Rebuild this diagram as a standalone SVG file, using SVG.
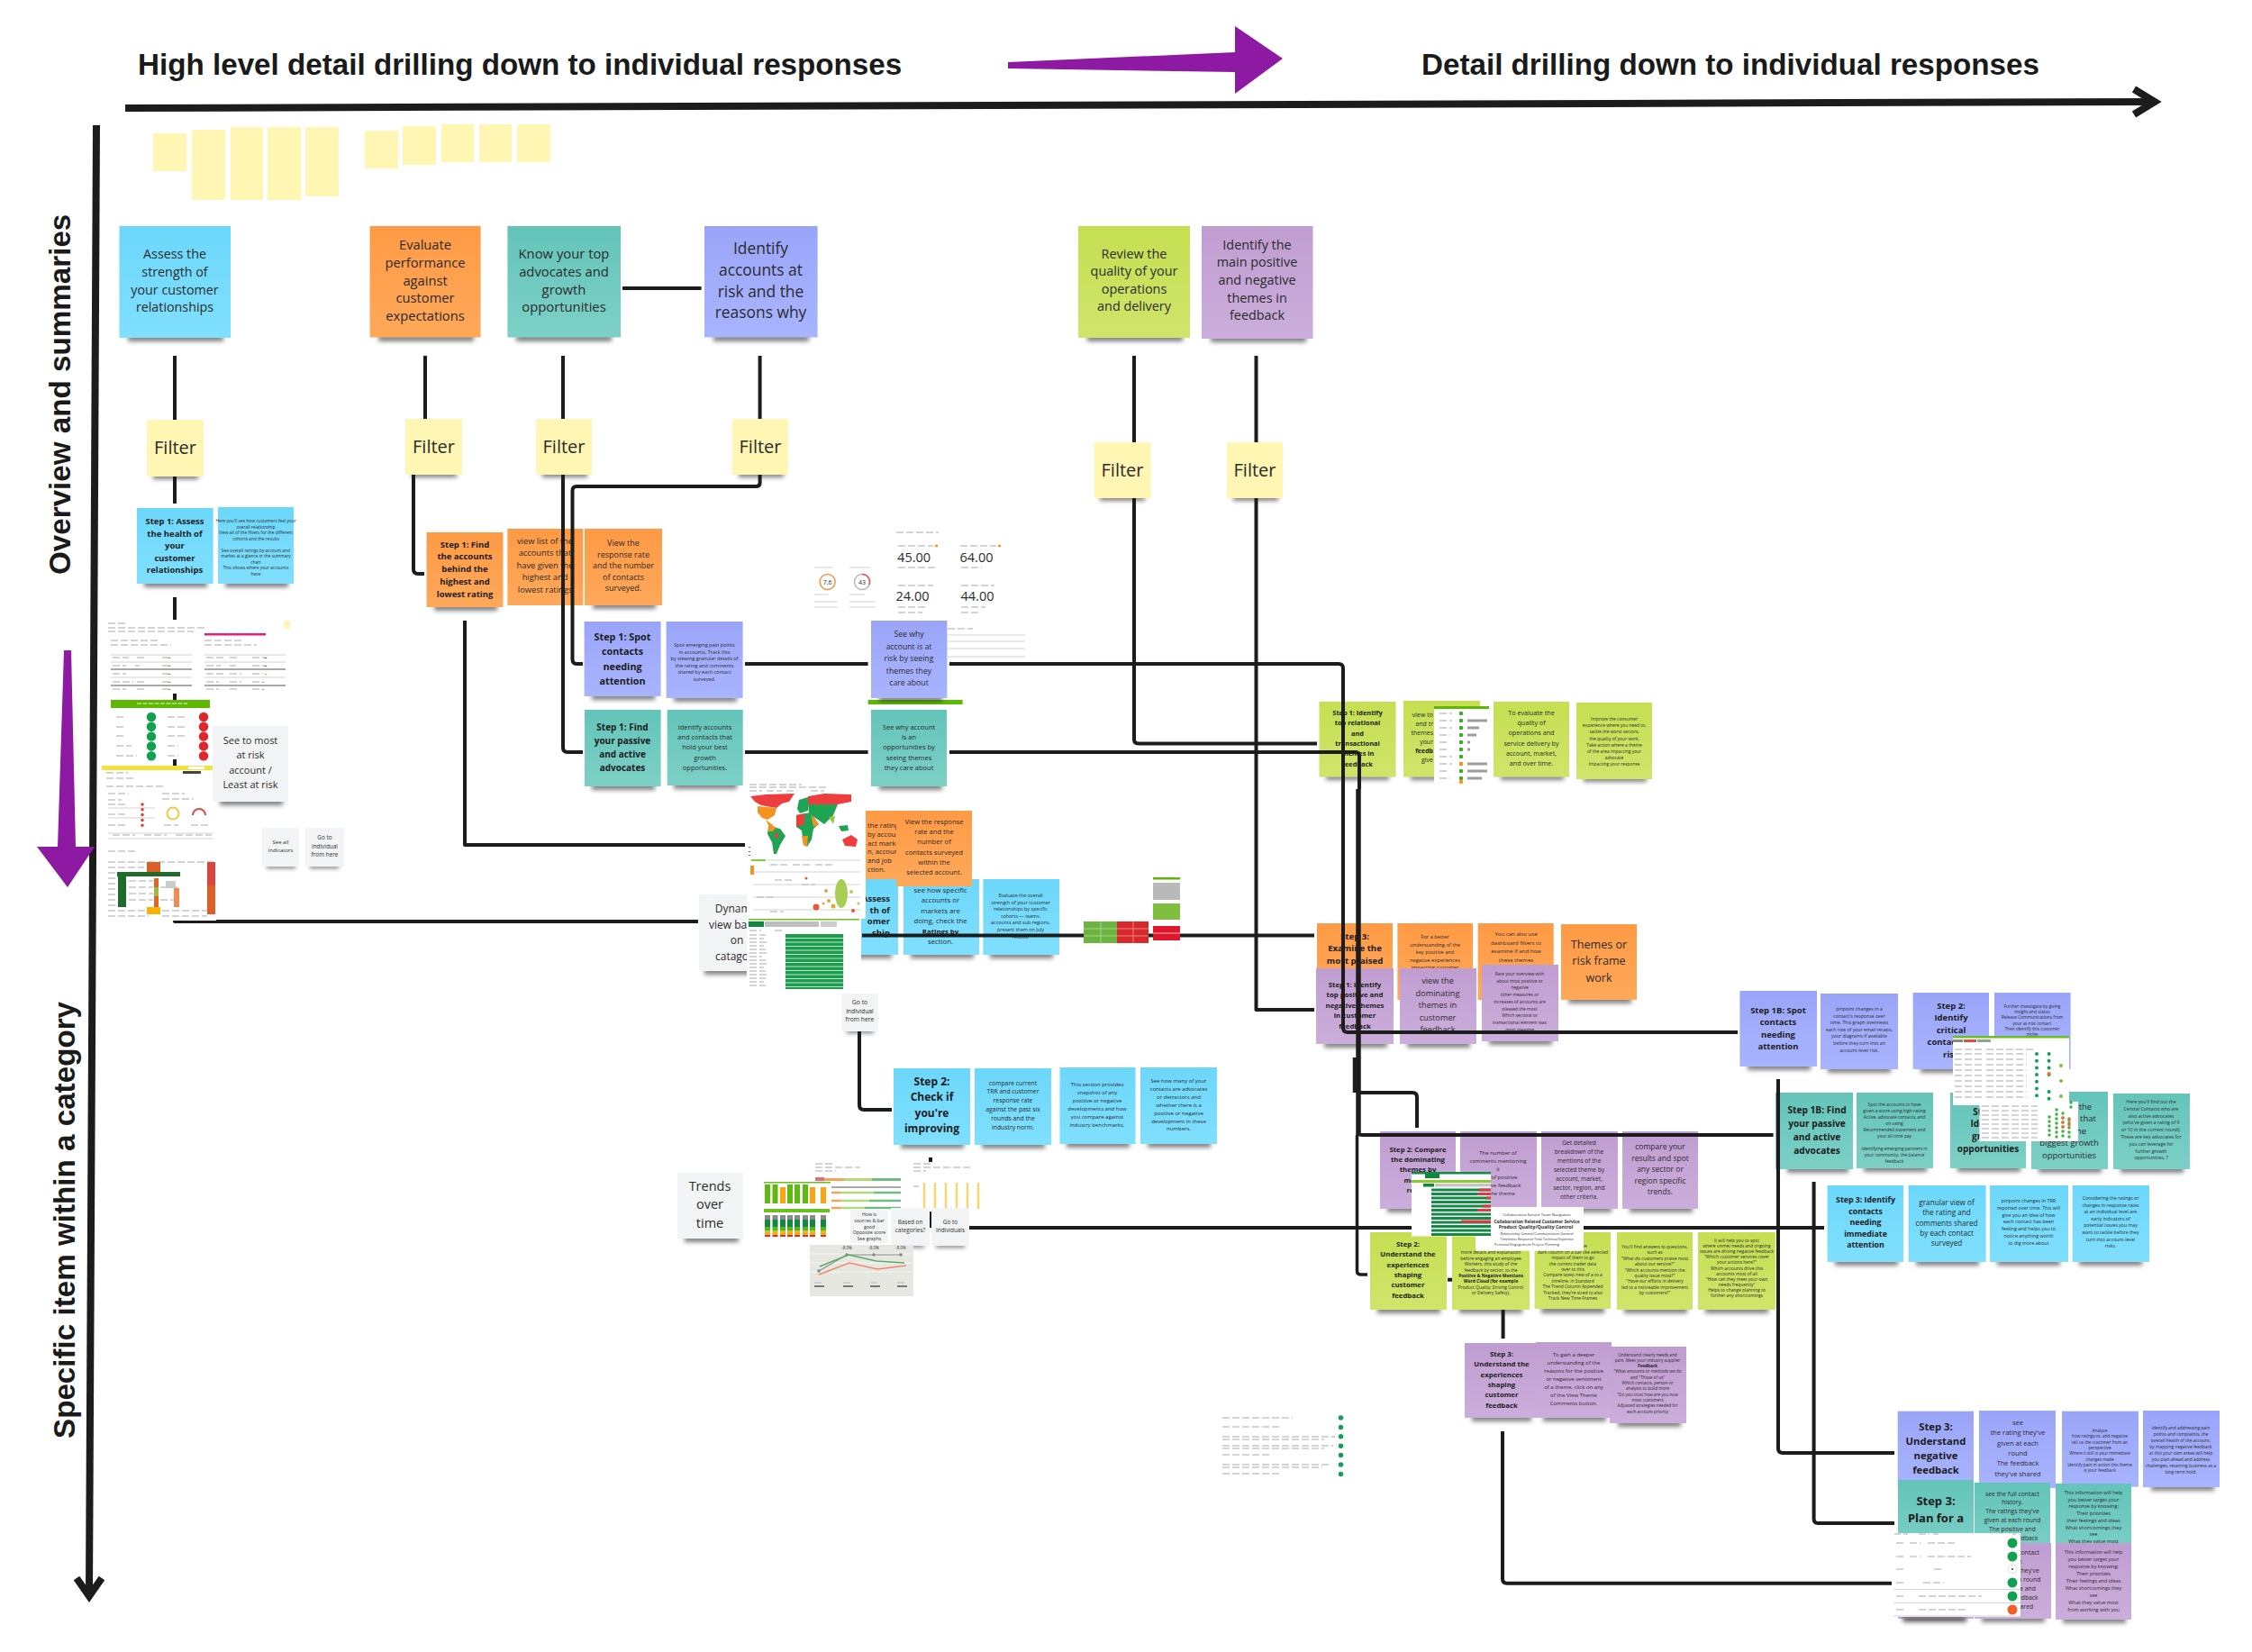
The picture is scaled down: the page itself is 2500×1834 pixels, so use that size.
<svg xmlns="http://www.w3.org/2000/svg" width="2500" height="1834" viewBox="0 0 2500 1834">
<style>
text{font-family:"Open Sans","Noto Sans",sans-serif;fill:#2b2b2b;text-anchor:middle}
.b{font-weight:700;fill:#1c1c1c}
.e{text-anchor:end}.l{text-anchor:start}
.h{font-family:"Liberation Sans",Arial,sans-serif;font-weight:700;font-size:33.200px;fill:#1a1a1a;text-anchor:start}
.sh{fill:#2e2e2e;opacity:.6;filter:url(#blur)}
.blue{fill:url(#gBlue)}.org{fill:url(#gOrg)}.teal{fill:url(#gTeal)}.per{fill:url(#gPer)}.lime{fill:url(#gLime)}.pur{fill:url(#gPur)}
.yel{fill:#fff6b3}.gry{fill:#f3f4f6}.wht{fill:#fff}
.c{fill:none;stroke:#1c1c1c;stroke-width:4;stroke-linejoin:round}
.ax{fill:none;stroke:#1c1c1c;stroke-width:8;stroke-linejoin:miter}
.g{fill:none;stroke:#d4d4d4;stroke-width:1.2}
.g2{fill:none;stroke:#c6c6c6;stroke-width:1.3;stroke-dasharray:8 3}
.g3{fill:none;stroke:#a8a8a8;stroke-width:2.2}
.d{fill:none;stroke-linecap:round;stroke-width:5;stroke-dasharray:0 7.7}
</style>
<defs>
<filter id="blur" x="-20%" y="-100%" width="140%" height="300%"><feGaussianBlur stdDeviation="2.6"/></filter>
<linearGradient id="gBlue" x1="0" y1="0" x2="0" y2="1"><stop offset="0" stop-color="#6cd7fb"/><stop offset="1" stop-color="#80dffd"/></linearGradient>
<linearGradient id="gOrg" x1="0" y1="0" x2="0" y2="1"><stop offset="0" stop-color="#ff9a45"/><stop offset="1" stop-color="#ffa85a"/></linearGradient>
<linearGradient id="gTeal" x1="0" y1="0" x2="0" y2="1"><stop offset="0" stop-color="#64c4b9"/><stop offset="1" stop-color="#7dd0c6"/></linearGradient>
<linearGradient id="gPer" x1="0" y1="0" x2="0" y2="1"><stop offset="0" stop-color="#9aa5f9"/><stop offset="1" stop-color="#a9b4ff"/></linearGradient>
<linearGradient id="gLime" x1="0" y1="0" x2="0" y2="1"><stop offset="0" stop-color="#c6df52"/><stop offset="1" stop-color="#d0e46b"/></linearGradient>
<linearGradient id="gPur" x1="0" y1="0" x2="0" y2="1"><stop offset="0" stop-color="#c09dd1"/><stop offset="1" stop-color="#cbaedb"/></linearGradient>
<linearGradient id="gStack" x1="0" y1="0" x2="0" y2="1"><stop offset="0" stop-color="#8a8a8a"/><stop offset=".2" stop-color="#8a8a8a"/><stop offset=".2" stop-color="#12883f"/><stop offset=".55" stop-color="#12883f"/><stop offset=".55" stop-color="#55b520"/><stop offset=".72" stop-color="#55b520"/><stop offset=".72" stop-color="#b7d022"/><stop offset=".84" stop-color="#f9a81b"/><stop offset=".9" stop-color="#f9a81b"/><stop offset=".9" stop-color="#ee2a24"/><stop offset="1" stop-color="#ee2a24"/></linearGradient>
<linearGradient id="gBar" x1="0" y1="0" x2="0" y2="1"><stop offset="0" stop-color="#d9453f"/><stop offset=".45" stop-color="#d9453f"/><stop offset=".45" stop-color="#dd5f28"/><stop offset="1" stop-color="#dd5f28"/></linearGradient>
</defs>
<rect width="2500" height="1834" fill="#fff"/>

<g id="axes">
<text class="h" x="153" y="83">High level detail drilling down to individual responses</text>
<text class="h" x="1578" y="83">Detail drilling down to individual responses</text>
<text class="h" transform="translate(78 638) rotate(-90)">Overview and summaries</text>
<text class="h" transform="translate(83 1597) rotate(-90)">Specific item within a category</text>
<path class="ax" d="M139 120L2390 113"/>
<path class="ax" d="M2369 99L2392 113L2369 127"/>
<path class="ax" d="M107 139L99 1770"/>
<path class="ax" d="M85 1752L99 1772L113 1752"/>
<polygon points="1119,69 1371,58 1371,29 1424,65 1371,104 1371,80 1119,76" fill="#8e1aa3"/>
<polygon points="71,722 79,722 84,940 105,940 75,985 41,940 64,940" fill="#8e1aa3"/>
</g>

<g id="tabs">
<rect class="yel" x="170" y="148" width="37" height="42"/><rect class="yel" x="213" y="144" width="37" height="78"/><rect class="yel" x="256" y="141" width="36" height="81"/><rect class="yel" x="297" y="141" width="37" height="81"/><rect class="yel" x="339" y="141" width="37" height="77"/>
<rect class="yel" x="405" y="145" width="37" height="42"/><rect class="yel" x="447" y="140" width="37" height="43"/><rect class="yel" x="490" y="138" width="36" height="42"/><rect class="yel" x="532" y="138" width="36" height="42"/><rect class="yel" x="574" y="138" width="37" height="42"/>
</g>

<g id="charts-back">
<rect class="wht" x="900" y="627" width="75" height="50"/>
<circle cx="918.6" cy="646" r="8.5" fill="none" stroke="#f29a4a" stroke-width="1.6"/><circle cx="957" cy="646" r="8.5" fill="none" stroke="#bbb" stroke-width="1.6"/>
<path d="M957 637.5A8.5 8.5 0 0 1 965 649" fill="none" stroke="#e8545a" stroke-width="1.6"/>
<text x="918.6" y="649" font-size="7">7.6</text><text x="957" y="649" font-size="7">43</text>
<path class="g" d="M904 630H925M943 630H966M904 660H920M943 660H960M904 668H930M943 668H972M904 674H930M943 674H972"/>
<path class="g2" d="M995 591H1042"/>
<text x="1014.6" y="624" font-size="14.5" fill="#333">45.00</text><text x="1084" y="624" font-size="14.5">64.00</text><text x="1013" y="667" font-size="14.5">24.00</text><text x="1085" y="667" font-size="14.5">44.00</text>
<path class="g2" d="M997 606H1036M1066 606H1106M997 630H1040M1067 630H1090M997 650H1036M1067 650H1104M997 674H1030M1067 674H1094M997 680H1024M1067 680H1086"/>
<path d="M1038 606h3M1108 606h3" stroke="#f29a20" stroke-width="2.5"/>
<path class="g" d="M1052 705H1138M1052 712H1138M1052 720H1138M1052 729H1138M1052 738H1138"/>
<rect x="963.6" y="777" width="105" height="5" fill="#5cb800"/>
<path class="g2" d="M1052 698H1080"/>
</g>

<g id="n-assess"><rect class="sh" x="142" y="371" width="106" height="8"/><rect class="blue" x="132.500" y="251" width="123.500" height="124"/><text x="194" y="287" font-size="14.300"><tspan x="194">Assess the</tspan><tspan x="194" dy="19.800">strength of</tspan><tspan x="194" dy="19.800">your customer</tspan><tspan x="194" dy="19.800">relationships</tspan></text></g>
<g id="n-evaluate"><rect class="sh" x="420" y="371" width="106" height="8"/><rect class="org" x="410.600" y="251" width="123" height="123.500"/><text x="472" y="277" font-size="14.700"><tspan x="472">Evaluate</tspan><tspan x="472" dy="19.800">performance</tspan><tspan x="472" dy="19.800">against</tspan><tspan x="472" dy="19.800">customer</tspan><tspan x="472" dy="19.800">expectations</tspan></text></g>
<g id="n-know"><rect class="sh" x="573" y="371" width="106" height="8"/><rect class="teal" x="563.400" y="251" width="125.600" height="123.500"/><text x="626" y="287" font-size="14.800"><tspan x="626">Know your top</tspan><tspan x="626" dy="19.800">advocates and</tspan><tspan x="626" dy="19.800">growth</tspan><tspan x="626" dy="19.800">opportunities</tspan></text></g>
<g id="n-identify"><rect class="sh" x="792" y="371" width="106" height="8"/><rect class="per" x="782" y="251" width="125.600" height="123.500"/><text x="844.500" y="282" font-size="17.400"><tspan x="844.500">Identify</tspan><tspan x="844.500" dy="23.800">accounts at</tspan><tspan x="844.500" dy="23.800">risk and the</tspan><tspan x="844.500" dy="23.800">reasons why</tspan></text></g>
<g id="n-review"><rect class="sh" x="1207" y="371" width="106" height="8"/><rect class="lime" x="1197" y="251" width="124" height="124"/><text x="1259" y="286.500" font-size="14.400"><tspan x="1259">Review the</tspan><tspan x="1259" dy="19.600">quality of your</tspan><tspan x="1259" dy="19.600">operations</tspan><tspan x="1259" dy="19.600">and delivery</tspan></text></g>
<g id="n-themes"><rect class="sh" x="1344" y="372" width="106" height="8"/><rect class="pur" x="1334" y="251" width="123.500" height="125"/><text x="1395.500" y="276.500" font-size="14.400"><tspan x="1395.500">Identify the</tspan><tspan x="1395.500" dy="19.700">main positive</tspan><tspan x="1395.500" dy="19.700">and negative</tspan><tspan x="1395.500" dy="19.700">themes in</tspan><tspan x="1395.500" dy="19.700">feedback</tspan></text></g>

<g id="f1"><rect class="sh" x="170" y="525" width="50" height="7"/><rect class="yel" x="163" y="466" width="63" height="63"/><text x="194.500" y="504" font-size="20">Filter</text></g>
<g id="f2"><rect class="sh" x="457" y="523" width="50" height="7"/><rect class="yel" x="450" y="465" width="63" height="62"/><text x="481.500" y="503" font-size="20">Filter</text></g>
<g id="f3"><rect class="sh" x="602" y="523" width="50" height="7"/><rect class="yel" x="595" y="465" width="62" height="62"/><text x="626" y="503" font-size="20">Filter</text></g>
<g id="f4"><rect class="sh" x="820" y="523" width="50" height="7"/><rect class="yel" x="813" y="465" width="62" height="62"/><text x="844" y="503" font-size="20">Filter</text></g>
<g id="f5"><rect class="sh" x="1221" y="549" width="50" height="7"/><rect class="yel" x="1214.700" y="491" width="63" height="62"/><text x="1246" y="529" font-size="20">Filter</text></g>
<g id="f6"><rect class="sh" x="1369" y="549" width="50" height="7"/><rect class="yel" x="1362" y="491" width="62" height="62"/><text x="1393" y="529" font-size="20">Filter</text></g>

<g id="s-assess1"><rect class="sh" x="160" y="644" width="70" height="8"/><rect class="blue" x="152" y="564" width="84.600" height="84"/><text class="b" x="194" y="582" font-size="9.500"><tspan x="194">Step 1: Assess</tspan><tspan x="194" dy="13.500">the health of</tspan><tspan x="194" dy="13.500">your</tspan><tspan x="194" dy="13.500">customer</tspan><tspan x="194" dy="13.500">relationships</tspan></text></g>
<g id="s-assess2"><rect class="sh" x="250" y="644" width="70" height="8"/><rect class="blue" x="242" y="563" width="84" height="85"/><text x="284" y="580" font-size="4.800"><tspan x="284">Here you'll see how customers feel your</tspan><tspan x="284" dy="6.500">overall relationship</tspan><tspan x="284" dy="6.500">View all of the filters for the different</tspan><tspan x="284" dy="6.500">cohorts and the results</tspan><tspan x="284" dy="13">See overall ratings by account and</tspan><tspan x="284" dy="6.500">market at a glance in the summary</tspan><tspan x="284" dy="6.500">chart</tspan><tspan x="284" dy="6.500">This shows where your accounts</tspan><tspan x="284" dy="6.500">have</tspan></text></g>

<g id="s-find1"><rect class="sh" x="482" y="670" width="70" height="8"/><rect class="org" x="473.500" y="591" width="85" height="83"/><text class="b" x="516" y="607.500" font-size="9.500"><tspan x="516">Step 1: Find</tspan><tspan x="516" dy="13.800">the accounts</tspan><tspan x="516" dy="13.800">behind the</tspan><tspan x="516" dy="13.800">highest and</tspan><tspan x="516" dy="13.800">lowest rating</tspan></text></g>
<g id="s-find2"><rect class="org" x="563.400" y="587" width="84" height="85"/><text x="605" y="604" font-size="9.300"><tspan x="605">view list of the</tspan><tspan x="605" dy="13.400">accounts that</tspan><tspan x="605" dy="13.400">have given the</tspan><tspan x="605" dy="13.400">highest and</tspan><tspan x="605" dy="13.400">lowest ratings</tspan></text></g>
<g id="s-find3"><rect class="sh" x="658" y="668" width="70" height="8"/><rect class="org" x="649" y="587" width="86" height="85"/><text x="692" y="606" font-size="9"><tspan x="692">View the</tspan><tspan x="692" dy="12.600">response rate</tspan><tspan x="692" dy="12.600">and the number</tspan><tspan x="692" dy="12.600">of contacts</tspan><tspan x="692" dy="12.600">surveyed.</tspan></text></g>

<g id="s-spot1"><rect class="sh" x="657" y="769" width="70" height="8"/><rect class="per" x="648.600" y="690" width="85" height="83"/><text class="b" x="691" y="711" font-size="10.800"><tspan x="691">Step 1: Spot</tspan><tspan x="691" dy="16.300">contacts</tspan><tspan x="691" dy="16.300">needing</tspan><tspan x="691" dy="16.300">attention</tspan></text></g>
<g id="s-spot2"><rect class="sh" x="748" y="771" width="70" height="8"/><rect class="per" x="739.600" y="690" width="85" height="85"/><text x="782" y="718" font-size="5.500"><tspan x="782">Spot emerging pain points</tspan><tspan x="782" dy="7.600">in accounts. Track this</tspan><tspan x="782" dy="7.600">by viewing granular details of</tspan><tspan x="782" dy="7.600">the rating and comments</tspan><tspan x="782" dy="7.600">shared by each contact</tspan><tspan x="782" dy="7.600">surveyed.</tspan></text></g>
<g id="s-why1"><rect class="sh" x="976" y="771" width="70" height="8"/><rect class="per" x="967" y="689" width="84.400" height="86"/><text x="1009" y="707" font-size="8.700"><tspan x="1009">See why</tspan><tspan x="1009" dy="13.500">account is at</tspan><tspan x="1009" dy="13.500">risk by seeing</tspan><tspan x="1009" dy="13.500">themes they</tspan><tspan x="1009" dy="13.500">care about</tspan></text></g>
<g id="s-pass1"><rect class="sh" x="657" y="869" width="70" height="8"/><rect class="teal" x="649" y="788" width="84.600" height="85"/><text class="b" x="691" y="811" font-size="10"><tspan x="691">Step 1: Find</tspan><tspan x="691" dy="15">your passive</tspan><tspan x="691" dy="15">and active</tspan><tspan x="691" dy="15">advocates</tspan></text></g>
<g id="s-pass2"><rect class="sh" x="748" y="868" width="70" height="8"/><rect class="teal" x="740.700" y="788" width="84" height="84"/><text x="782.500" y="810" font-size="7.500"><tspan x="782.500">Identify accounts</tspan><tspan x="782.500" dy="11.200">and contacts that</tspan><tspan x="782.500" dy="11.200">hold your best</tspan><tspan x="782.500" dy="11.200">growth</tspan><tspan x="782.500" dy="11.200">opportunities.</tspan></text></g>
<g id="s-why2"><rect class="sh" x="976" y="869" width="70" height="8"/><rect class="teal" x="967" y="788" width="84" height="85"/><text x="1009" y="810" font-size="7.500"><tspan x="1009">See why account</tspan><tspan x="1009" dy="11.200">is an</tspan><tspan x="1009" dy="11.200">opportunities by</tspan><tspan x="1009" dy="11.200">seeing themes</tspan><tspan x="1009" dy="11.200">they care about</tspan></text></g>

<g id="s-mapo1"><rect class="org" x="912" y="900" width="84" height="84"/><text class="l" x="963" y="919" font-size="7.700"><tspan x="963">the rating</tspan><tspan x="963" dy="9.800">by accoun</tspan><tspan x="963" dy="9.800">act marke</tspan><tspan x="963" dy="9.800">n, accour</tspan><tspan x="963" dy="9.800">and job</tspan><tspan x="963" dy="9.800">ction.</tspan></text></g>
<g id="s-blue1"><rect class="sh" x="930" y="1056" width="60" height="8"/><rect class="blue" x="912" y="976" width="85" height="84"/><text class="b e" x="988" y="1001" font-size="9.500"><tspan x="988">Assess</tspan><tspan x="988" dy="12.700">th of</tspan><tspan x="988" dy="12.700">omer</tspan><tspan x="988" dy="12.700">ship</tspan></text></g>
<g id="s-blue2"><rect class="sh" x="1011" y="1056" width="70" height="8"/><rect class="blue" x="1003" y="976" width="84" height="84"/><text x="1044" y="991" font-size="7.800"><tspan x="1044">see how specific</tspan><tspan x="1044" dy="11.400">accounts or</tspan><tspan x="1044" dy="11.400">markets are</tspan><tspan x="1044" dy="11.400">doing, check the</tspan><tspan class="b" x="1044" dy="11.400">Ratings by</tspan><tspan x="1044" dy="11.400">section.</tspan></text></g>
<g id="s-blue3"><rect class="sh" x="1099" y="1056" width="70" height="8"/><rect class="blue" x="1091.400" y="976" width="84.600" height="84"/><text x="1133" y="996" font-size="5.400"><tspan x="1133">Evaluate the overall</tspan><tspan x="1133" dy="7.600">strength of your customer</tspan><tspan x="1133" dy="7.600">relationships by specific</tspan><tspan x="1133" dy="7.600">cohorts — teams,</tspan><tspan x="1133" dy="7.600">accounts and sub-regions,</tspan><tspan x="1133" dy="7.600">present them on July</tspan><tspan x="1133" dy="7.600">results.</tspan></text></g>
<g id="s-mapo2"><rect class="org" x="995" y="900" width="84" height="84"/><text x="1037" y="915" font-size="7.600"><tspan x="1037">View the response</tspan><tspan x="1037" dy="11.200">rate and the</tspan><tspan x="1037" dy="11.200">number of</tspan><tspan x="1037" dy="11.200">contacts surveyed</tspan><tspan x="1037" dy="11.200">within the</tspan><tspan x="1037" dy="11.200">selected account.</tspan></text></g>
<g id="s-dyn"><rect class="sh" x="782" y="1074" width="60" height="8"/><rect class="gry" x="776" y="993" width="85" height="85"/><text x="818" y="1013" font-size="12"><tspan x="818">Dynamic</tspan><tspan x="818" dy="17.600">view based</tspan><tspan x="818" dy="17.600">on</tspan><tspan x="818" dy="17.600">catagory</tspan></text></g>
<g id="s-goto1"><rect class="sh" x="940" y="1141" width="30" height="6"/><rect class="gry" x="934.500" y="1103" width="40" height="42"/><text x="954.500" y="1115" font-size="6.800"><tspan x="954.500">Go to</tspan><tspan x="954.500" dy="9.600">individual</tspan><tspan x="954.500" dy="9.600">from here</tspan></text></g>

<g id="s-chk1"><rect class="sh" x="1000" y="1267" width="70" height="8"/><rect class="blue" x="992" y="1186" width="85" height="85"/><text class="b" x="1034.500" y="1205" font-size="12"><tspan x="1034.500">Step 2:</tspan><tspan x="1034.500" dy="17.400">Check if</tspan><tspan x="1034.500" dy="17.400">you're</tspan><tspan x="1034.500" dy="17.400">improving</tspan></text></g>
<g id="s-chk2"><rect class="sh" x="1090" y="1267" width="70" height="8"/><rect class="blue" x="1082" y="1186" width="85" height="85"/><text x="1124.500" y="1204.500" font-size="6.800"><tspan x="1124.500">compare current</tspan><tspan x="1124.500" dy="9.900">TRR and customer</tspan><tspan x="1124.500" dy="9.900">response rate</tspan><tspan x="1124.500" dy="9.900">against the past six</tspan><tspan x="1124.500" dy="9.900">rounds and the</tspan><tspan x="1124.500" dy="9.900">industry norm.</tspan></text></g>
<g id="s-chk3"><rect class="sh" x="1184" y="1266" width="70" height="8"/><rect class="blue" x="1176.500" y="1185" width="84" height="85"/><text x="1218" y="1206" font-size="6"><tspan x="1218">This section provides</tspan><tspan x="1218" dy="9">snapshot of any</tspan><tspan x="1218" dy="9">positive or negative</tspan><tspan x="1218" dy="9">developments and how</tspan><tspan x="1218" dy="9">you compare against</tspan><tspan x="1218" dy="9">industry benchmarks.</tspan></text></g>
<g id="s-chk4"><rect class="sh" x="1274" y="1266" width="70" height="8"/><rect class="blue" x="1266" y="1185" width="85" height="85"/><text x="1308.500" y="1202" font-size="6"><tspan x="1308.500">See how many of your</tspan><tspan x="1308.500" dy="8.900">contacts are advocates</tspan><tspan x="1308.500" dy="8.900">or detractors and</tspan><tspan x="1308.500" dy="8.900">whether there is a</tspan><tspan x="1308.500" dy="8.900">positive or negative</tspan><tspan x="1308.500" dy="8.900">development in these</tspan><tspan x="1308.500" dy="8.900">numbers.</tspan></text></g>
<g id="s-trends"><rect class="sh" x="760" y="1371" width="60" height="8"/><rect class="gry" x="752" y="1302" width="73" height="73"/><text x="788" y="1322" font-size="14.500"><tspan x="788">Trends</tspan><tspan x="788" dy="20.400">over</tspan><tspan x="788" dy="20.400">time</tspan></text></g>

<g id="s-lime1"><rect class="sh" x="1472" y="859" width="70" height="7"/><rect class="lime" x="1464.500" y="779" width="85" height="83.600"/><text class="b" x="1507" y="794" font-size="7.400"><tspan x="1507">Step 1: Identify</tspan><tspan x="1507" dy="11.300">top relational</tspan><tspan x="1507" dy="11.300">and</tspan><tspan x="1507" dy="11.300">transactional</tspan><tspan x="1507" dy="11.300">themes in</tspan><tspan x="1507" dy="11.300">feedback</tspan></text></g>
<g id="s-lime2"><rect class="sh" x="1566" y="859" width="70" height="7"/><rect class="lime" x="1558" y="778" width="85" height="84.600"/><text class="e" x="1591" y="796" font-size="7"><tspan x="1591">view to</tspan><tspan x="1591" dy="10">and tr</tspan><tspan x="1591" dy="10">themes</tspan><tspan x="1591" dy="10">your</tspan><tspan class="b" x="1591" dy="10">feedb</tspan><tspan x="1591" dy="10">give</tspan></text></g>
<g id="s-lime3"><rect class="sh" x="1666" y="859" width="70" height="7"/><rect class="lime" x="1658" y="779" width="84" height="83.600"/><text x="1700" y="794" font-size="7.200"><tspan x="1700">To evaluate the</tspan><tspan x="1700" dy="11.200">quality of</tspan><tspan x="1700" dy="11.200">operations and</tspan><tspan x="1700" dy="11.200">service delivery by</tspan><tspan x="1700" dy="11.200">account, market,</tspan><tspan x="1700" dy="11.200">and over time.</tspan></text></g>
<g id="s-lime4"><rect class="sh" x="1758" y="861" width="70" height="7"/><rect class="lime" x="1750" y="780" width="84" height="85"/><text x="1792" y="800" font-size="4.900"><tspan x="1792">Improve the consumer</tspan><tspan x="1792" dy="7.200">experience where you need to,</tspan><tspan x="1792" dy="7.200">tackle the worst sectors,</tspan><tspan x="1792" dy="7.200">the quality of your work.</tspan><tspan x="1792" dy="7.200">Take action where a theme</tspan><tspan x="1792" dy="7.200">of the area impacting your</tspan><tspan x="1792" dy="7.200">advocate</tspan><tspan x="1792" dy="7.200">Impacting your response</tspan></text></g>

<g id="s-o3"><rect class="org" x="1462" y="1025" width="84" height="85"/><text class="b" x="1504" y="1043" font-size="9.600"><tspan x="1504">Step 3:</tspan><tspan x="1504" dy="13.400">Examine the</tspan><tspan x="1504" dy="13.400">most praised</tspan></text></g>
<g id="s-o4"><rect class="org" x="1551.400" y="1025" width="83.600" height="85"/><text x="1593" y="1042" font-size="5.700"><tspan x="1593">For a better</tspan><tspan x="1593" dy="8.600">understanding of the</tspan><tspan x="1593" dy="8.600">key positive and</tspan><tspan x="1593" dy="8.600">negative experiences</tspan><tspan x="1593" dy="8.600">impacting customer</tspan></text></g>
<g id="s-o5"><rect class="org" x="1640.700" y="1025" width="84" height="85"/><text x="1683" y="1039" font-size="6.100"><tspan x="1683">You can also use</tspan><tspan x="1683" dy="9.700">dashboard filters to</tspan><tspan x="1683" dy="9.700">examine if and how</tspan><tspan x="1683" dy="9.700">these themes</tspan></text></g>
<g id="s-o6"><rect class="sh" x="1741" y="1106" width="70" height="8"/><rect class="org" x="1733" y="1026" width="84" height="84"/><text x="1775" y="1052.500" font-size="12.600"><tspan x="1775">Themes or</tspan><tspan x="1775" dy="18.600">risk frame</tspan><tspan x="1775" dy="18.600">work</tspan></text></g>
<g id="s-p1"><rect class="sh" x="1470" y="1155" width="70" height="8"/><rect class="pur" x="1461" y="1075" width="86" height="84"/><text class="b" x="1504" y="1096" font-size="7.800"><tspan x="1504">Step 1: Identify</tspan><tspan x="1504" dy="11.400">top positive and</tspan><tspan x="1504" dy="11.400">negative themes</tspan><tspan x="1504" dy="11.400">in customer</tspan><tspan x="1504" dy="11.400">feedback</tspan></text></g>
<g id="s-p2"><rect class="sh" x="1562" y="1155" width="70" height="8"/><rect class="pur" x="1554" y="1075" width="85" height="84"/><text x="1596" y="1092" font-size="9.200"><tspan x="1596">view the</tspan><tspan x="1596" dy="13.500">dominating</tspan><tspan x="1596" dy="13.500">themes in</tspan><tspan x="1596" dy="13.500">customer</tspan><tspan x="1596" dy="13.500">feedback</tspan></text></g>
<g id="s-p3"><rect class="sh" x="1653" y="1152" width="70" height="8"/><rect class="pur" x="1645" y="1071" width="85" height="85"/><text x="1687" y="1083" font-size="4.900"><tspan x="1687">Rate your overview with</tspan><tspan x="1687" dy="7.700">about most positive or</tspan><tspan x="1687" dy="7.700">negative</tspan><tspan x="1687" dy="7.700">other measures or</tspan><tspan x="1687" dy="7.700">increases of accounts are</tspan><tspan x="1687" dy="7.700">pleased the most</tspan><tspan x="1687" dy="7.700">Which sectoral or</tspan><tspan x="1687" dy="7.700">transactional element was</tspan><tspan x="1687" dy="7.700">most pleasing</tspan></text></g>

<g id="s-c1"><rect class="sh" x="1540" y="1338" width="70" height="8"/><rect class="pur" x="1532" y="1256" width="84" height="86"/><text class="b" x="1574" y="1279" font-size="7.800"><tspan x="1574">Step 2: Compare</tspan><tspan x="1574" dy="11.200">the dominating</tspan><tspan x="1574" dy="11.200">themes by</tspan><tspan x="1574" dy="11.200">market,</tspan><tspan x="1574" dy="11.200">region</tspan></text></g>
<g id="s-c2"><rect class="pur" x="1621" y="1256" width="85" height="86"/><text x="1663" y="1282" font-size="6"><tspan x="1663">The number of</tspan><tspan x="1663" dy="9">comments mentioning</tspan><tspan x="1663" dy="9">it</tspan><tspan x="1663" dy="9">type of positive</tspan><tspan x="1663" dy="9">negative feedback</tspan><tspan x="1663" dy="9">on the theme</tspan></text></g>
<g id="s-c3"><rect class="sh" x="1719" y="1338" width="70" height="8"/><rect class="pur" x="1711" y="1256" width="85" height="86"/><text x="1753" y="1270.500" font-size="6.600"><tspan x="1753">Get detailed</tspan><tspan x="1753" dy="10">breakdown of the</tspan><tspan x="1753" dy="10">mentions of the</tspan><tspan x="1753" dy="10">selected theme by</tspan><tspan x="1753" dy="10">account, market,</tspan><tspan x="1753" dy="10">sector, region, and</tspan><tspan x="1753" dy="10">other criteria.</tspan></text></g>
<g id="s-c4"><rect class="sh" x="1809" y="1338" width="70" height="8"/><rect class="pur" x="1801" y="1256" width="84" height="86"/><text x="1843" y="1276" font-size="8.500"><tspan x="1843">compare your</tspan><tspan x="1843" dy="12.500">results and spot</tspan><tspan x="1843" dy="12.500">any sector or</tspan><tspan x="1843" dy="12.500">region specific</tspan><tspan x="1843" dy="12.500">trends.</tspan></text></g>

<g id="s-l1"><rect class="sh" x="1529" y="1450" width="70" height="8"/><rect class="lime" x="1521" y="1368" width="85" height="86"/><text class="b" x="1563" y="1384" font-size="7.800"><tspan x="1563">Step 2:</tspan><tspan x="1563" dy="11.300">Understand the</tspan><tspan x="1563" dy="11.300">experiences</tspan><tspan x="1563" dy="11.300">shaping</tspan><tspan x="1563" dy="11.300">customer</tspan><tspan x="1563" dy="11.300">feedback</tspan></text></g>
<g id="s-l2"><rect class="sh" x="1620" y="1450" width="70" height="8"/><rect class="lime" x="1612" y="1368" width="86" height="86"/><text x="1655" y="1386" font-size="4.900"><tspan x="1655">To get</tspan><tspan x="1655" dy="6.400">more details and explanation</tspan><tspan x="1655" dy="6.400">before engaging an employee</tspan><tspan x="1655" dy="6.400">Workers, this study of the</tspan><tspan x="1655" dy="6.400">feedback by sector, to the</tspan><tspan class="b" x="1655" dy="6.400">Positive &amp; Negative Mentions</tspan><tspan class="b" x="1655" dy="6.400">Word Cloud (for example</tspan><tspan x="1655" dy="6.400">Product Quality; Driving Control</tspan><tspan x="1655" dy="6.400">or Delivery Safety).</tspan></text></g>
<g id="s-l3"><rect class="sh" x="1711" y="1450" width="70" height="8"/><rect class="lime" x="1703.600" y="1368" width="84.400" height="85"/><text x="1746" y="1379" font-size="4.900"><tspan class="b" x="1746">Theme</tspan><tspan x="1746" dy="6.400">clicked on the</tspan><tspan x="1746" dy="6.400">dark column on a bar like selected</tspan><tspan x="1746" dy="6.400">impact of them to go</tspan><tspan x="1746" dy="6.400">the current trader data</tspan><tspan x="1746" dy="6.400">over to this</tspan><tspan x="1746" dy="6.400">Compare latest new of a to a</tspan><tspan x="1746" dy="6.400">timeline, in Standard</tspan><tspan x="1746" dy="6.400">The Trend Column Appended</tspan><tspan x="1746" dy="6.400">Tracked, they're sized to also</tspan><tspan x="1746" dy="6.400">Track New Time Frames</tspan></text></g>
<g id="s-l4"><rect class="sh" x="1803" y="1450" width="70" height="8"/><rect class="lime" x="1795" y="1368" width="84" height="86"/><text x="1837" y="1386" font-size="4.900"><tspan x="1837">You'll find answers to questions,</tspan><tspan x="1837" dy="6.400">such as</tspan><tspan x="1837" dy="6.400">"What do customers praise most</tspan><tspan x="1837" dy="6.400">about our service?"</tspan><tspan x="1837" dy="6.400">"Which accounts mention the</tspan><tspan x="1837" dy="6.400">quality issue most?"</tspan><tspan x="1837" dy="6.400">"Have our efforts in delivery</tspan><tspan x="1837" dy="6.400">led to a noticeable improvement</tspan><tspan x="1837" dy="6.400">by customers?"</tspan></text></g>
<g id="s-l5"><rect class="sh" x="1893" y="1450" width="70" height="8"/><rect class="lime" x="1885" y="1368" width="86" height="86"/><text x="1928" y="1379" font-size="4.900"><tspan x="1928">It will help you to spot</tspan><tspan x="1928" dy="6.100">where unmet needs and ongoing</tspan><tspan x="1928" dy="6.100">issues are driving negative feedback</tspan><tspan x="1928" dy="6.100">"Which customer services cover</tspan><tspan x="1928" dy="6.100">your actions here?"</tspan><tspan x="1928" dy="6.100">Which accounts drive this</tspan><tspan x="1928" dy="6.100">accounts most of all</tspan><tspan x="1928" dy="6.100">"How can they meet your own</tspan><tspan x="1928" dy="6.100">needs frequently"</tspan><tspan x="1928" dy="6.100">Helps to change planning to</tspan><tspan x="1928" dy="6.100">further any shortcomings</tspan></text></g>
<g id="s-u1"><rect class="sh" x="1634" y="1570" width="66" height="8"/><rect class="pur" x="1626" y="1491" width="79" height="83"/><text class="b" x="1667" y="1506" font-size="7.800"><tspan x="1667">Step 3:</tspan><tspan x="1667" dy="11.300">Understand the</tspan><tspan x="1667" dy="11.300">experiences</tspan><tspan x="1667" dy="11.300">shaping</tspan><tspan x="1667" dy="11.300">customer</tspan><tspan x="1667" dy="11.300">feedback</tspan></text></g>
<g id="s-u2"><rect class="sh" x="1713" y="1570" width="70" height="8"/><rect class="pur" x="1705" y="1490" width="84" height="84"/><text x="1747" y="1506" font-size="6"><tspan x="1747">To gain a deeper</tspan><tspan x="1747" dy="9">understanding of the</tspan><tspan x="1747" dy="9">reasons for the positive</tspan><tspan x="1747" dy="9">or negative sentiment</tspan><tspan x="1747" dy="9">of a theme, click on any</tspan><tspan x="1747" dy="9">of the View Theme</tspan><tspan x="1747" dy="9">Comments button.</tspan></text></g>
<g id="s-u3"><rect class="sh" x="1796" y="1576" width="70" height="8"/><rect class="pur" x="1787" y="1495" width="85" height="85"/><text x="1829" y="1505.500" font-size="4.700"><tspan x="1829">Understand clearly needs and</tspan><tspan x="1829" dy="6.300">pain. Meet your industry supplier</tspan><tspan class="b" x="1829" dy="6.300">Feedback</tspan><tspan x="1829" dy="6.300">"What amounts or methods we do</tspan><tspan x="1829" dy="6.300">and "Those of us"</tspan><tspan x="1829" dy="6.300">Which contacts, person or</tspan><tspan x="1829" dy="6.300">analysis to build more</tspan><tspan x="1829" dy="6.300">"Do you trust how are you now</tspan><tspan x="1829" dy="6.300">most customers</tspan><tspan x="1829" dy="6.300">Adjusted strategies needed for</tspan><tspan x="1829" dy="6.300">each account priority</tspan></text></g>

<g id="s-r1"><rect class="sh" x="1940" y="1180" width="70" height="8"/><rect class="per" x="1931.400" y="1100" width="85.600" height="84"/><text class="b" x="1974" y="1124.500" font-size="9.500"><tspan x="1974">Step 1B: Spot</tspan><tspan x="1974" dy="13.500">contacts</tspan><tspan x="1974" dy="13.500">needing</tspan><tspan x="1974" dy="13.500">attention</tspan></text></g>
<g id="s-r2"><rect class="sh" x="2029" y="1183" width="70" height="8"/><rect class="per" x="2021" y="1103" width="86" height="84"/><text x="2064" y="1122" font-size="5.200"><tspan x="2064">pinpoint changes in a</tspan><tspan x="2064" dy="7.600">contact's response over</tspan><tspan x="2064" dy="7.600">time. This graph overviews</tspan><tspan x="2064" dy="7.600">each row of your email recaps,</tspan><tspan x="2064" dy="7.600">your diagrams if available</tspan><tspan x="2064" dy="7.600">before they turn into an</tspan><tspan x="2064" dy="7.600">account-level risk.</tspan></text></g>
<g id="s-r3"><rect class="sh" x="2132" y="1183" width="70" height="8"/><rect class="per" x="2123.600" y="1102" width="84.400" height="85"/><text class="b" x="2166" y="1119.500" font-size="9.500"><tspan x="2166">Step 2:</tspan><tspan x="2166" dy="13.500">Identify</tspan><tspan x="2166" dy="13.500">critical</tspan><tspan x="2166" dy="13.500">contacts at</tspan><tspan x="2166" dy="13.500">risk</tspan></text></g>
<g id="s-r4"><rect class="per" x="2214" y="1102" width="84.600" height="85"/><text x="2256" y="1119" font-size="4.800"><tspan x="2256">Further investigate by giving</tspan><tspan x="2256" dy="6.200">insight and status</tspan><tspan x="2256" dy="6.200">Release Communications from</tspan><tspan x="2256" dy="6.200">your at-risk contact</tspan><tspan x="2256" dy="6.200">Then identify this customer</tspan><tspan x="2256" dy="6.200">niche</tspan></text></g>
<g id="s-g1"><rect class="sh" x="1984" y="1294" width="68" height="8"/><rect class="teal" x="1971" y="1213" width="86" height="85"/><text class="b" x="2017" y="1236" font-size="10.200"><tspan x="2017">Step 1B: Find</tspan><tspan x="2017" dy="15">your passive</tspan><tspan x="2017" dy="15">and active</tspan><tspan x="2017" dy="15">advocates</tspan></text></g>
<g id="s-g2"><rect class="sh" x="2069" y="1293" width="70" height="8"/><rect class="teal" x="2061" y="1213" width="85" height="84"/><text x="2103" y="1228" font-size="4.900"><tspan x="2103">Spot the accounts to have</tspan><tspan x="2103" dy="7">given a score using high-rating</tspan><tspan x="2103" dy="7">Active, advocate contacts, and</tspan><tspan x="2103" dy="7">on using</tspan><tspan x="2103" dy="7">Recommended statement and</tspan><tspan x="2103" dy="7">your all-time pay</tspan><tspan x="2103" dy="14">Identifying emerging partners in</tspan><tspan x="2103" dy="7">your community, the balance</tspan><tspan x="2103" dy="7">feedback</tspan></text></g>
<g id="s-g3"><rect class="sh" x="2173" y="1293" width="70" height="8"/><rect class="teal" x="2165" y="1213" width="84" height="84"/><text class="b" x="2207" y="1237.500" font-size="10"><tspan x="2207">Step 2:</tspan><tspan x="2207" dy="13.700">Identify</tspan><tspan x="2207" dy="13.700">growth</tspan><tspan x="2207" dy="13.700">opportunities</tspan></text></g>
<g id="s-g4"><rect class="sh" x="2263" y="1294" width="70" height="8"/><rect class="teal" x="2255" y="1212" width="85" height="86"/><text x="2297" y="1231.500" font-size="9.500"><tspan x="2297">Identify the</tspan><tspan x="2297" dy="13.500">accounts that</tspan><tspan x="2297" dy="13.500">have the</tspan><tspan x="2297" dy="13.500">biggest growth</tspan><tspan x="2297" dy="13.500">opportunities</tspan></text></g>
<g id="s-g5"><rect class="sh" x="2354" y="1294" width="70" height="8"/><rect class="teal" x="2346" y="1214" width="85" height="84"/><text x="2388" y="1225" font-size="5.200"><tspan x="2388">Here you'll find out the</tspan><tspan x="2388" dy="7.800">Central Contacts who are</tspan><tspan x="2388" dy="7.800">also active advocates</tspan><tspan x="2388" dy="7.800">(who've given a rating of 9</tspan><tspan x="2388" dy="7.800">or 10 in the current round).</tspan><tspan x="2388" dy="7.800">These are key advocates for</tspan><tspan x="2388" dy="7.800">you can leverage for</tspan><tspan x="2388" dy="7.800">further growth</tspan><tspan x="2388" dy="7.800">opportunities. ?</tspan></text></g>
<g id="s-i1"><rect class="sh" x="2037" y="1397" width="70" height="8"/><rect class="blue" x="2028.600" y="1316" width="84.400" height="85"/><text class="b" x="2071" y="1335" font-size="8.800"><tspan x="2071">Step 3: Identify</tspan><tspan x="2071" dy="12.500">contacts</tspan><tspan x="2071" dy="12.500">needing</tspan><tspan x="2071" dy="12.500">immediate</tspan><tspan x="2071" dy="12.500">attention</tspan></text></g>
<g id="s-i2"><rect class="sh" x="2127" y="1397" width="70" height="8"/><rect class="blue" x="2118.600" y="1316" width="86" height="85"/><text x="2161" y="1338" font-size="8.200"><tspan x="2161">granular view of</tspan><tspan x="2161" dy="11.300">the rating and</tspan><tspan x="2161" dy="11.300">comments shared</tspan><tspan x="2161" dy="11.300">by each contact</tspan><tspan x="2161" dy="11.300">surveyed</tspan></text></g>
<g id="s-i3"><rect class="sh" x="2217" y="1397" width="70" height="8"/><rect class="blue" x="2209" y="1316" width="87" height="85"/><text x="2252" y="1335" font-size="5.400"><tspan x="2252">pinpoint changes in TRR</tspan><tspan x="2252" dy="7.800">reported over time. This will</tspan><tspan x="2252" dy="7.800">give you an idea of how</tspan><tspan x="2252" dy="7.800">each contact has been</tspan><tspan x="2252" dy="7.800">feeling and helps you to</tspan><tspan x="2252" dy="7.800">notice anything worth</tspan><tspan x="2252" dy="7.800">to dig more about</tspan></text></g>
<g id="s-i4"><rect class="sh" x="2308" y="1397" width="70" height="8"/><rect class="blue" x="2300.700" y="1316" width="85.300" height="85"/><text x="2343" y="1332" font-size="5.200"><tspan x="2343">Considering the ratings or</tspan><tspan x="2343" dy="7.600">changes in response rates</tspan><tspan x="2343" dy="7.600">at an individual level are</tspan><tspan x="2343" dy="7.600">early indicators of</tspan><tspan x="2343" dy="7.600">potential issues you may</tspan><tspan x="2343" dy="7.600">want to tackle before they</tspan><tspan x="2343" dy="7.600">turn into account-level</tspan><tspan x="2343" dy="7.600">risks.</tspan></text></g>

<g id="s-n1"><rect class="per" x="2106.700" y="1566.700" width="84.300" height="84"/><text class="b" x="2149" y="1588" font-size="11.300"><tspan x="2149">Step 3:</tspan><tspan x="2149" dy="16">Understand</tspan><tspan x="2149" dy="16">negative</tspan><tspan x="2149" dy="16">feedback</tspan></text></g>
<g id="s-n2"><rect class="per" x="2197" y="1566" width="85" height="86"/><text x="2240" y="1582" font-size="7.500"><tspan x="2240">see</tspan><tspan x="2240" dy="11.300">the rating they've</tspan><tspan x="2240" dy="11.300">given at each</tspan><tspan x="2240" dy="11.300">round</tspan><tspan x="2240" dy="11.300">The feedback</tspan><tspan x="2240" dy="11.300">they've shared</tspan></text></g>
<g id="s-n3"><rect class="per" x="2289" y="1566.700" width="85" height="84"/><text x="2331" y="1590" font-size="4.700"><tspan x="2331">Analyze</tspan><tspan x="2331" dy="6.300">how ratings vs. and negative</tspan><tspan x="2331" dy="6.300">tell us the customer from an</tspan><tspan x="2331" dy="6.300">perspective</tspan><tspan x="2331" dy="6.300">Where it still is your immediate</tspan><tspan x="2331" dy="6.300">changes made</tspan><tspan x="2331" dy="6.300">Identify pain in action this theme</tspan><tspan x="2331" dy="6.300">is your feedback</tspan></text></g>
<g id="s-n4"><rect class="sh" x="2388" y="1647" width="70" height="8"/><rect class="per" x="2379" y="1566" width="85" height="85"/><text x="2421" y="1587" font-size="4.900"><tspan x="2421">Identify and addressing pain</tspan><tspan x="2421" dy="7">points and complaints, the</tspan><tspan x="2421" dy="7">overall health of the account,</tspan><tspan x="2421" dy="7">by mapping negative feedback</tspan><tspan x="2421" dy="7">at this your own areas will help</tspan><tspan x="2421" dy="7">you plan ahead and address</tspan><tspan x="2421" dy="7">challenges, retaining business as a</tspan><tspan x="2421" dy="7">long-term hold.</tspan></text></g>
<g id="s-t1"><rect class="teal" x="2107" y="1643" width="84" height="84"/><text class="b" x="2149" y="1671" font-size="13"><tspan x="2149">Step 3:</tspan><tspan x="2149" dy="19">Plan for a</tspan></text></g>
<g id="s-t2"><rect class="teal" x="2192" y="1646" width="84" height="85"/><text x="2234" y="1660.500" font-size="6.800"><tspan x="2234">see the full contact</tspan><tspan x="2234" dy="9.800">history.</tspan><tspan x="2234" dy="9.800">The ratings they've</tspan><tspan x="2234" dy="9.800">given at each round</tspan><tspan x="2234" dy="9.800">The positive and</tspan><tspan x="2234" dy="9.800">negative feedback</tspan></text></g>
<g id="s-t3"><rect class="teal" x="2282" y="1647" width="84" height="86"/><text x="2324" y="1659" font-size="5.500"><tspan x="2324">This information will help</tspan><tspan x="2324" dy="7.700">you better target your</tspan><tspan x="2324" dy="7.700">response by knowing:</tspan><tspan x="2324" dy="7.700">Their priorities</tspan><tspan x="2324" dy="7.700">their feelings and ideas</tspan><tspan x="2324" dy="7.700">What shortcomings they</tspan><tspan x="2324" dy="7.700">see</tspan><tspan x="2324" dy="7.700">What they value most</tspan></text></g>
<g id="s-u4"><rect class="sh" x="2113" y="1793" width="70" height="8"/><rect class="pur" x="2107" y="1713" width="84" height="84"/></g>
<g id="s-u5"><rect class="sh" x="2200" y="1793" width="70" height="8"/><rect class="pur" x="2192" y="1713" width="85" height="84"/><text x="2234" y="1726" font-size="6.800"><tspan x="2234">see the full contact</tspan><tspan x="2234" dy="10">history.</tspan><tspan x="2234" dy="10">The ratings they've</tspan><tspan x="2234" dy="10">given at each round</tspan><tspan x="2234" dy="10">The positive and</tspan><tspan x="2234" dy="10">negative feedback</tspan><tspan x="2234" dy="10">they've shared</tspan></text></g>
<g id="s-u6"><rect class="sh" x="2290" y="1794" width="70" height="8"/><rect class="pur" x="2282" y="1713" width="84" height="85"/><text x="2324" y="1725" font-size="5.500"><tspan x="2324">This information will help</tspan><tspan x="2324" dy="8">you better target your</tspan><tspan x="2324" dy="8">response by knowing:</tspan><tspan x="2324" dy="8">Their priorities</tspan><tspan x="2324" dy="8">Their feelings and ideas</tspan><tspan x="2324" dy="8">What shortcomings they</tspan><tspan x="2324" dy="8">see</tspan><tspan x="2324" dy="8">What they value most</tspan><tspan x="2324" dy="8">from working with you</tspan></text></g>

<g id="connectors">
<path class="c" d="M691 320H778.600"/>
<path class="c" d="M194 395V466M194 529V559M472 395V465M625 395V465M843.600 395V465"/>
<path class="c" d="M194 663V1023H775"/>
<path class="c" d="M459 527V632Q459 637 464 637H471"/>
<path class="c" d="M516 689V938H827"/>
<path class="c" d="M625 527V830Q625 835 630 835H647"/>
<path class="c" d="M843.600 527V536Q843.600 540 839 540H640Q635.500 540 635.500 545V732Q635.500 737 640 737H647"/>
<path class="c" d="M827 737H963.600M827 835H963.600"/>
<path class="c" d="M1054 737H1486Q1491 737 1491 742V1141Q1491 1146 1496 1146H1929"/>
<path class="c" d="M1054 835H1505Q1509 835 1509 840V876"/>
<path class="c" d="M1508 876V1260" style="stroke-width:5.500"/>
<path class="c" d="M1508 1258Q1508 1260 1513 1260H1968.600"/>
<path class="c" d="M1504 1174V1213" style="stroke-width:4.500"/>
<path class="c" d="M1506.500 1260V1411Q1506.500 1415 1511 1415H1518" style="stroke-width:3.500"/>
<path class="c" d="M1508 1213H1568Q1573 1213 1573 1218V1252"/>
<path class="c" d="M1259 395V491M1259 553V821Q1259 825.500 1264 825.500H1462"/>
<path class="c" d="M1394.500 395V491M1394.500 553V1121H1459"/>
<path class="c" d="M957 1038.600H1459"/>
<path class="c" d="M954 1145V1227Q954 1232 959 1232H990"/>
<path class="c" d="M1033 1285V1363"/>
<path class="c" d="M1076 1363H2025"/>
<path class="c" d="M1607 1420.700H1612"/>
<path class="c" d="M1668.600 1454V1486"/>
<path class="c" d="M1668 1589V1753Q1668 1757.700 1673 1757.700H2100"/>
<path class="c" d="M1974 1198V1608Q1974 1613 1979 1613H2103"/>
<path class="c" d="M2013.600 1312V1686Q2013.600 1691 2018 1691H2103"/>
</g>

<g id="charts-front">
<g id="ch-left1"><rect class="wht" x="118" y="688" width="202" height="82"/><rect x="315" y="689" width="7" height="9" fill="#fff6b3"/><rect x="227" y="703" width="68" height="2.500" fill="#ea1e79"/>
<path class="g2" d="M120 692H142M120 697H230M120 701H215M123 711H175M227 711H270M123 716H190M227 716H285"/><path class="g" d="M123 727H213M227 727H317M123 735H213M227 735H317M123 752H213M227 752H317"/><path class="g3" d="M123 743H213M227 743H317M123 761H213M227 761H317"/>
<path class="g2" d="M125 730H143M152 730H160M180 730H190M229 730H248M255 730H265M280 730H295M125 739H140M150 739H155M180 739H190M229 739H245M255 739H262M280 739H295M125 748H140M180 748H190M229 748H250M255 748H268M280 748H292M125 757H148M152 757H162M180 757H190M229 757H243M255 757H268M280 757H292M125 765H140M152 765H160M180 765H190M229 765H243M255 765H265M280 765H292"/>
<path d="M188 730v1M188 739v1M188 748v1M188 757v1M188 765v1" stroke="#6abf1f" stroke-width="2.500"/><path d="M295 730v1M295 739v1" stroke="#e03a3a" stroke-width="2.500"/><path d="M295 748v1M292 757v1M292 765v1" stroke="#f29a20" stroke-width="2.500"/></g>
<g id="ch-left2"><rect class="wht" x="123" y="777" width="110" height="66"/><rect x="123" y="777" width="110" height="9" fill="#5cb800"/><path d="M152 781H208" stroke="#b8e590" stroke-width="1.500" stroke-dasharray="5 1.500"/>
<path class="d" d="M168 796V840" stroke="#12a150" style="stroke-width:10.500;stroke-dasharray:0 10.800"/><path class="d" d="M226 796V840" stroke="#e0252b" style="stroke-width:10.500;stroke-dasharray:0 10.800"/>
<path class="g2" d="M129 796H139M129 807H140M129 817H137M129 828H146M129 839H152M186 796H207M186 807H206M186 817H208M186 828H198M186 839H198"/></g>
<g id="ch-left3"><rect class="wht" x="113" y="850" width="127" height="172"/><rect x="113" y="850" width="127" height="5" fill="#f2e23c"/><rect x="209" y="851" width="18" height="3" fill="#fff"/>
<path class="g2" d="M118 858H142M118 864H148M118 873H183M120 881H143M180 881H205M180 887H215M120 888H135"/>
<rect x="203" y="856" width="20" height="3" fill="#444"/>
<circle cx="192" cy="903" r="6.500" fill="none" stroke="#eec94a" stroke-width="2"/><path d="M214 905A7 7 0 0 1 228 905" fill="none" stroke="#e04a4a" stroke-width="2"/>
<path class="g" d="M120 897H172M120 908H172M120 925H237M120 931H237"/><path class="g2" d="M120 893H140M120 904H140M120 916H140M182 916H198M212 916H232M125 927H150M160 927H185M195 927H235"/>
<path class="d" d="M158 893V917" stroke="#e03a3a" style="stroke-width:3.500;stroke-dasharray:0 5.800"/>
<path class="g2" d="M120 945H150M120 957H237M120 963H160M120 969H130M120 975H130M120 981H130M120 987H130M120 993H130M120 999H130M120 1005H130M120 1011H165M120 1017H165M180 1011H230M180 1017H230"/>
<rect x="163" y="957" width="15" height="11" fill="#dd5f28"/><rect x="230" y="957" width="9" height="58" fill="url(#gBar)"/><rect x="130" y="968" width="70" height="5" fill="#1e6b2c"/><rect x="131" y="973" width="9" height="34" fill="#1e6b2c"/><rect class="wht" x="140" y="973" width="64" height="34"/><path class="g2" d="M143 978H170M143 985H170M143 992H170M143 999H170M178 985H200M178 999H200"/><rect x="171" y="975" width="5" height="32" fill="#e0642a"/><rect x="171" y="985" width="5" height="10" fill="#9dbb3a"/><rect x="184" y="978" width="11" height="8" fill="#ccc"/><rect x="193" y="986" width="6" height="21" fill="#f28b50"/><rect x="163" y="1007" width="15" height="8" fill="#fcb000"/></g>

<g id="ch-map"><rect class="wht" x="829" y="868" width="132" height="85"/><path class="g2" d="M832 871H890M832 874H920M832 878H846M851 878H868M873 878H885M900 878H915"/>
<polygon points="833,884 850,882 882,881 876,890 868,892 862,897 845,894 838,890" fill="#ee3d3f"/>
<polygon points="841,895 862,897 860,905 852,910 846,908 841,902" fill="#f59222"/>
<polygon points="850,910 858,916 860,921 854,918" fill="#f59222"/>
<polygon points="853,917 866,920 872,928 866,938 862,948 859,948 857,935 852,926" fill="#1fa454"/>
<polygon points="853,917 862,918 858,923 853,923" fill="#f59222"/><rect x="860" y="925" width="4" height="5" fill="#ee3d3f"/>
<polygon points="887,888 897,885 897,900 888,903 885,898" fill="#1fa454"/>
<polygon points="884,905 900,902 909,915 903,920 901,932 896,940 892,938 890,922 884,918" fill="#1fa454"/>
<polygon points="884,905 893,903 893,915 884,918" fill="#ee3d3f"/><polygon points="890,928 897,928 896,940 892,938" fill="#f59222"/><polygon points="900,903 909,915 903,918" fill="#f59222"/>
<polygon points="897,884 915,881 945,882 945,890 930,893 915,895 897,893" fill="#ee3d3f"/>
<polygon points="897,893 930,893 925,905 915,915 905,908 898,903" fill="#1fa454"/>
<polygon points="920,907 927,906 925,915" fill="#8fca3d"/>
<polygon points="931,917 941,916 942,922 934,923" fill="#1fa454"/>
<polygon points="935,932 945,927 952,932 950,940 938,939" fill="#ee3d3f"/><path d="M832 940v1M832 945v1M832 949v1" stroke="#ee3d3f" stroke-width="2"/></g>
<g id="ch-scatter"><rect class="wht" x="829" y="953" width="132" height="67"/><path d="M834 955H850" stroke="#5cb800" stroke-width="1.500"/><path class="g" d="M852 955H955"/><path class="g" d="M836 968H955M836 982H955M836 996H955M836 1010H955"/>
<rect x="833" y="961" width="4" height="10" fill="#f59222"/>
<ellipse cx="934" cy="992" rx="7" ry="16" fill="#a9cc53"/><circle cx="906" cy="1007" r="3.500" fill="#e8563a"/><circle cx="925" cy="1006" r="2.500" fill="#e8a33a"/><circle cx="917" cy="989" r="2" fill="#e8a33a"/><circle cx="920" cy="1000" r="2" fill="#e8a33a"/><circle cx="914" cy="1003" r="1.500" fill="#e8a33a"/><circle cx="947" cy="1011" r="2" fill="#e8563a"/><circle cx="945" cy="990" r="2" fill="#a9cc53"/><circle cx="953" cy="1003" r="1.500" fill="#a9cc53"/><circle cx="895" cy="975" r="1.500" fill="#e8563a"/>
<path class="g2" d="M855 960H875M880 960H900M905 960H925M860 977H880M890 982H905M840 996H860M855 1012H870"/></g>
<g id="ch-bars"><rect class="wht" x="829" y="1020" width="127" height="78"/><rect x="831" y="1020" width="123" height="1.500" fill="#6abf1f"/><rect x="831" y="1023" width="17" height="6" fill="#0c8a3a"/><rect x="849" y="1023" width="60" height="6" fill="#bfbfbf"/><rect x="911" y="1023" width="18" height="6" fill="#ccc"/>
<path class="g2" d="M832 1033H845M860 1033H870M832 1038H850M832 1042H848M832 1046H852M832 1050H848M832 1054H850M832 1058H852M832 1062H846M832 1066H850M832 1070H852M832 1074H848M832 1078H850M832 1082H852M832 1086H850M832 1090H848M832 1094H850"/>
<rect x="872" y="1037" width="64" height="61" fill="#1a9c4c"/>
<path d="M872 1041.500H936M872 1046H936M872 1050.500H936M872 1055H936M872 1059.500H936M872 1064H936M872 1068.500H936M872 1073H936M872 1077.500H936M872 1082H936M872 1086.500H936M872 1091H936M872 1095.500H936" stroke="#d5ecdd" stroke-width=".9"/></g>
<g id="ch-heat"><rect x="1203" y="1023" width="37" height="24" fill="#6cb33f"/><rect x="1240" y="1023" width="35" height="24" fill="#d8282c"/><rect x="1280" y="974" width="30" height="2.500" fill="#5cb800"/><rect x="1280" y="980" width="30" height="19" fill="#b9b9b9"/><rect x="1280" y="1003" width="30" height="18" fill="#7fbe3f"/><rect x="1280" y="1028" width="30" height="16" fill="#e0162b"/><path d="M1203 1031H1275M1203 1039H1275M1222 1023V1047M1258 1023V1047" stroke="#fff" stroke-width=".7" opacity=".6"/><path d="M1280 1036H1310" stroke="#fff" stroke-width=".7"/></g>

<g id="ch-trend1"><rect class="wht" x="903" y="1290" width="97" height="52"/><path class="g2" d="M905 1292H925M905 1296H955M905 1300H928"/><rect x="905" y="1307" width="10" height="4" fill="#e86a80"/><rect x="915" y="1308" width="22" height="3" fill="#f6a35a"/><rect x="937" y="1308" width="31" height="3" fill="#b6d77a"/><rect x="968" y="1308" width="32" height="3" fill="#6dbd84"/><path class="g3" d="M923 1318H1000"/>
<path d="M923 1324H933M923 1333H933M923 1341H933" stroke="#f6a35a" stroke-width="2.500"/><path d="M933 1324H970M933 1333H965M933 1341H960" stroke="#b6d77a" stroke-width="2.500"/><path d="M970 1324H1000M965 1333H1000M960 1341H1000" stroke="#6dbd84" stroke-width="2.500"/></g>
<g id="ch-trend2"><rect class="wht" x="1012" y="1290" width="85" height="55"/><path class="g2" d="M1014 1292H1036M1014 1296H1078M1014 1300H1028M1014 1317H1020"/><path d="M1026 1313V1342M1038 1313V1342M1050 1313V1342M1062 1313V1342M1074 1313V1342M1086 1313V1342" stroke="#f9d56e" stroke-width="2.500"/></g>
<g id="ch-greenbars"><rect class="wht" x="848" y="1312" width="74" height="65"/><rect x="848" y="1312" width="74" height="1.500" fill="#6abf1f"/>
<path d="M852 1315V1336M860.500 1315V1336M877 1315V1336M885 1315V1336M894 1315V1336" stroke="#5fba10" stroke-width="6"/><path d="M869 1318V1336M902 1318V1336M914 1318V1336" stroke="#fca311" stroke-width="6"/>
<rect x="848" y="1342" width="73" height="4" fill="#6ac11e"/>
<rect x="849" y="1349" width="6" height="24" fill="url(#gStack)"/><rect x="857.500" y="1349" width="6" height="24" fill="url(#gStack)"/><rect x="866" y="1349" width="6" height="24" fill="url(#gStack)"/><rect x="874" y="1349" width="6" height="24" fill="url(#gStack)"/><rect x="882" y="1349" width="6" height="24" fill="url(#gStack)"/><rect x="891" y="1349" width="6" height="24" fill="url(#gStack)"/><rect x="899" y="1349" width="6" height="24" fill="url(#gStack)"/><rect x="911" y="1349" width="6" height="24" fill="url(#gStack)"/></g>
<g id="s-how"><rect class="gry" x="944" y="1342" width="42" height="38"/><text x="965" y="1350" font-size="5.200"><tspan x="965">How is</tspan><tspan x="965" dy="6.800">sources &amp; bar</tspan><tspan x="965" dy="6.800">good</tspan><tspan x="965" dy="6.800">Opposite score</tspan><tspan x="965" dy="6.800">See graphs</tspan></text></g>
<g id="s-based"><rect class="sh" x="994" y="1380" width="32" height="5"/><rect class="gry" x="989" y="1341" width="43" height="42"/><text x="1010.500" y="1359" font-size="6.400"><tspan x="1010.500">Based on</tspan><tspan x="1010.500" dy="9">categories?</tspan></text></g>
<g id="s-goto2"><rect class="sh" x="1039" y="1380" width="32" height="5"/><rect class="gry" x="1034" y="1341" width="42" height="42"/><text x="1055" y="1359" font-size="6.400"><tspan x="1055">Go to</tspan><tspan x="1055" dy="9">Individuals</tspan></text></g>
<g id="ch-line"><rect x="899" y="1382" width="115" height="57" fill="#e7e7e1"/><path d="M899 1392H1014M899 1402H1014M899 1412H1014" stroke="#efefea" stroke-width="2"/>
<polyline points="909,1411 940,1393 970,1393 1000,1393" fill="none" stroke="#8c8c8c" stroke-width="1.200"/><circle cx="909" cy="1411" r="1.800" fill="#888"/><circle cx="940" cy="1393" r="1.800" fill="#888"/><circle cx="970" cy="1393" r="1.800" fill="#888"/><circle cx="1000" cy="1393" r="1.800" fill="#888"/>
<polyline points="910,1406 942,1393 973,1400 1004,1402" fill="none" stroke="#57ad66" stroke-width="1.600"/><polyline points="909,1415 943,1402 974,1409 1006,1405" fill="none" stroke="#ee8a6e" stroke-width="1.600"/>
<text x="940" y="1387" font-size="4.500" fill="#666">-8.0%</text><text x="970" y="1387" font-size="4.500" fill="#666">-8.0%</text><text x="1000" y="1387" font-size="4.500" fill="#666">-8.0%</text>
<path class="g2" d="M904 1424H914M936 1424H946M966 1424H976M996 1424H1006"/><path d="M904 1428H915M936 1428H947M966 1428H977M996 1428H1007" stroke="#777" stroke-width="2"/></g>

<g id="ch-limechart"><rect class="wht" x="1592" y="784" width="61" height="86"/><rect x="1592" y="784" width="61" height="3" fill="#5cb800"/>
<path class="d" d="M1622 792V868" stroke="#3eaa2a" style="stroke-width:4.500;stroke-dasharray:0 8"/><circle cx="1622" cy="848" r="2.300" fill="#f29a20"/><circle cx="1622" cy="868" r="2.300" fill="#f29a20"/>
<path d="M1629 800H1651M1629 808H1642M1629 816H1639M1629 824H1632M1629 832H1632M1629 848H1651M1629 856H1651M1629 864H1645" stroke="#9e9e9e" stroke-width="3"/><path class="g2" d="M1598 792H1612M1598 800H1612M1598 808H1612M1598 816H1610M1598 824H1606M1598 832H1606M1598 840H1612M1598 848H1612M1598 856H1608M1598 864H1610"/></g>
<g id="ch-themes"><rect class="wht" x="1567" y="1301" width="88" height="71.500"/><rect x="1567" y="1301" width="88" height="2.500" fill="#138a45"/><rect x="1582" y="1303" width="16" height="5" fill="#0c8a3a"/><rect x="1567" y="1310" width="88" height="3" fill="#8ccb2e"/><rect x="1580" y="1314" width="12" height="3.500" fill="#0c8a3a"/><rect x="1593" y="1314" width="62" height="3.500" fill="#c5c5c5"/>
<path d="M1589 1321H1655M1589 1325.500H1655M1589 1330H1655M1589 1334.500H1655M1589 1339H1655M1589 1343.500H1655M1589 1348H1655M1589 1352.500H1655M1589 1357H1655M1589 1361.500H1655M1589 1366H1655M1589 1370.500H1655" stroke="#138a45" stroke-width="3"/>
<path d="M1642 1321H1655M1640 1325.500H1655M1650 1330H1655M1646 1339H1655M1640 1343.500H1655M1622 1356H1655" stroke="#e03a46" stroke-width="3"/></g>
<g id="ch-cloud"><rect class="wht" x="1655" y="1340" width="103" height="48.600"/><rect class="wht" x="1638" y="1372" width="20" height="16.600"/>
<text x="1706" y="1350" font-size="4.200" fill="#27a85a">Collaboration Service Team Navigation</text><text x="1706" y="1358" font-size="4.800" fill="#1f9f50" font-weight="700">Collaboration Related Customer Service</text><text x="1705" y="1363.500" font-size="5.200" fill="#1f9f50" font-weight="700">Product Quality/Quality Control</text><text x="1706" y="1371" font-size="3.800" fill="#3bb46a">Relationship General Communication General</text><text x="1706" y="1377" font-size="3.800" fill="#e86a78">Timeliness Response Time Technical Expertise</text><text x="1695" y="1383" font-size="4" fill="#63c088">Personal Engagement Project Planning</text></g>
<g id="ch-table1"><rect class="wht" x="2168" y="1150" width="129" height="77"/><rect x="2168" y="1150" width="129" height="2.500" fill="#6abf1f"/><rect x="2168" y="1154" width="11" height="3" fill="#888"/><rect x="2180" y="1154" width="14" height="3" fill="#e04a4a"/><rect x="2195" y="1154" width="15" height="3" fill="#8aa88a"/>
<path class="g2" d="M2170 1165H2200M2205 1165H2260M2170 1170H2200M2205 1170H2250M2170 1176H2200M2205 1176H2250M2170 1182H2200M2205 1182H2250M2170 1188H2200M2205 1188H2250M2170 1194H2200M2205 1194H2250M2170 1200H2200M2205 1200H2250M2170 1206H2200M2205 1206H2250M2170 1212H2200M2205 1212H2250M2170 1218H2200M2205 1218H2250"/>
<path class="d" d="M2261 1170V1223" stroke="#12a150" style="stroke-width:4"/><path class="d" d="M2274.600 1170V1200M2274.600 1212V1223" stroke="#12a150" style="stroke-width:4"/><circle cx="2274.600" cy="1192" r="2" fill="#f26a3a"/><path d="M2288 1183v.1M2288 1200v.1M2288 1217v.1" stroke="#7ac142" stroke-width="4" stroke-linecap="round"/></g>
<g id="ch-table2"><rect class="wht" x="2197.500" y="1223" width="109.500" height="44"/><path class="g2" d="M2200 1228H2262M2200 1233H2262M2200 1238H2262M2200 1243H2262M2200 1248H2262M2200 1253H2262M2200 1258H2262M2200 1263H2262"/>
<path class="d" d="M2275 1240V1265M2283 1232V1265M2290 1236V1265M2297 1242V1265" stroke="#3fb23f" style="stroke-width:3.500;stroke-dasharray:0 5"/><path class="d" d="M2299 1224V1232" stroke="#3fb23f" style="stroke-width:3.500;stroke-dasharray:0 5"/><path class="d" d="M2290 1241V1252M2297 1244V1254" stroke="#f26a3a" style="stroke-width:3.500;stroke-dasharray:0 5"/></g>
<g id="ch-list1"><rect class="wht" x="1355" y="1562" width="139" height="80"/><path class="g2" d="M1357 1574H1435M1357 1584H1420M1357 1595H1482M1357 1598H1470M1357 1605H1480M1357 1608H1470M1357 1615H1410M1357 1626H1476M1357 1629H1468M1357 1636H1420"/><path class="d" d="M1488.500 1574V1637" stroke="#12a150" style="stroke-width:5.500;stroke-dasharray:0 10.400"/></g>
<g id="ch-list2"><rect class="sh" x="2112" y="1792" width="70" height="6"/><rect class="wht" x="2100.700" y="1702" width="142.300" height="93"/><path class="g" d="M2102 1764.500H2243M2102 1779.500H2243M2102 1794H2243"/><path class="g2" d="M2103 1703H2110M2113 1703H2118M2130 1703H2142M2146 1703H2152M2234 1703H2238M2105 1713H2116M2120 1713H2132M2140 1713H2172M2105 1728H2116M2120 1728H2132M2140 1728H2188M2105 1742H2116M2147 1742H2156M2105 1757H2116M2135 1757H2158M2105 1772H2116M2130 1772H2200M2105 1787H2116M2130 1787H2185"/>
<circle cx="2234" cy="1713" r="5.500" fill="#12a150"/><circle cx="2234" cy="1728" r="5.500" fill="#12a150"/><circle cx="2234" cy="1742" r="5" fill="#fff" stroke="#ddd"/><circle cx="2234" cy="1742" r="1" fill="#333"/><circle cx="2234" cy="1757" r="5.500" fill="#12a150"/><circle cx="2234" cy="1772" r="5.500" fill="#12a150"/><circle cx="2234" cy="1787" r="5.500" fill="#f2602a"/></g>
</g>

<g id="s-seeto"><rect class="sh" x="244" y="886" width="70" height="8"/><rect class="gry" x="236" y="806" width="84" height="84"/><text x="278" y="826" font-size="11"><tspan x="278">See to most</tspan><tspan x="278" dy="16.400">at risk</tspan><tspan x="278" dy="16.400">account /</tspan><tspan x="278" dy="16.400">Least at risk</tspan></text></g>
<g id="s-seeall"><rect class="sh" x="296" y="959" width="32" height="5"/><rect class="gry" x="291" y="919" width="41" height="43"/><text x="311.500" y="937" font-size="6"><tspan x="311.500">See all</tspan><tspan x="311.500" dy="9.300">Indicators</tspan></text></g>
<g id="s-goto3"><rect class="sh" x="344" y="959" width="32" height="5"/><rect class="gry" x="339" y="919" width="43" height="43"/><text x="360.500" y="932" font-size="6.400"><tspan x="360.500">Go to</tspan><tspan x="360.500" dy="9.600">individual</tspan><tspan x="360.500" dy="9.600">from here</tspan></text></g>
</svg>
